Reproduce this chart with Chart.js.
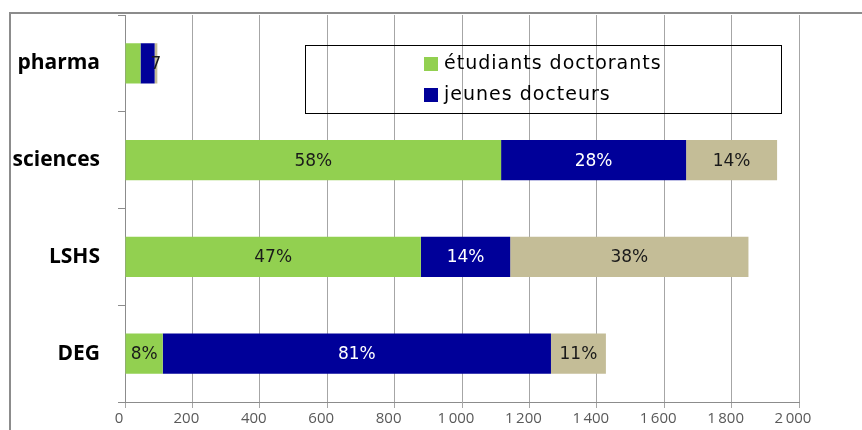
<!DOCTYPE html>
<html>
<head>
<meta charset="utf-8">
<script src="https://cdn.jsdelivr.net/npm/chart.js@4.4.0/dist/chart.umd.min.js"></script>
<style>
  body { margin: 0; background: #fff; }
  #wrap { position: relative; width: 862px; height: 430px; overflow: hidden; }
  #frame { position: absolute; left: 9px; top: 12px; width: 900px; height: 500px;
           border-left: 2px solid #8c8c8c; border-top: 2px solid #8c8c8c; }
  canvas { position: absolute; left: 0; top: 0; }
</style>
</head>
<body>
<div id="wrap">
  <div id="frame"></div>
  <canvas id="chart" width="862" height="430"></canvas>
</div>
<script>
  const categories = ['pharma', 'sciences', 'LSHS', 'DEG'];
  const doctorants = [46, 1116, 878, 112];
  const jeunesDocteurs = [42, 549, 265, 1152];
  const autres = [8, 270, 707, 163];

  const doctorantsLabels = ['', '58%', '47%', '8%'];
  const docteursLabels = ['', '28%', '14%', '81%'];
  const autresLabels = ['7', '14%', '38%', '11%'];

  const xMax = 2000;
  const xStep = 200;

  function fmtThousands(v) {
    return String(v).replace(/\B(?=(\d{3})+(?!\d))/g, '\u2009');
  }

  // percentage labels in the middle of each segment
  const segmentLabels = {
    id: 'segmentLabels',
    afterDatasetsDraw(chart) {
      const ctx = chart.ctx;
      ctx.save();
      ctx.font = '17px "DejaVu Sans"';
      ctx.textAlign = 'center';
      ctx.textBaseline = 'middle';
      chart.data.datasets.forEach((ds, i) => {
        const meta = chart.getDatasetMeta(i);
        meta.data.forEach((bar, j) => {
          const txt = ds.valueLabels[j];
          if (!txt) return;
          ctx.fillStyle = ds.labelColor;
          ctx.fillText(txt, (bar.x + bar.base) / 2, bar.y + 1);
        });
      });
      ctx.restore();
    }
  };

  // boxed legend sitting inside the plot, only the first two series
  const boxLegend = {
    id: 'boxLegend',
    afterDraw(chart) {
      const ctx = chart.ctx;
      ctx.save();
      ctx.strokeStyle = '#000';
      ctx.lineWidth = 1;
      ctx.strokeRect(305.5, 45.5, 476, 68);
      ctx.font = '19px "DejaVu Sans"';
      ctx.letterSpacing = '1px';
      ctx.textBaseline = 'middle';
      ctx.textAlign = 'left';
      chart.data.datasets.slice(0, 2).forEach((ds, i) => {
        const y = 64 + i * 31;
        ctx.fillStyle = ds.backgroundColor;
        ctx.fillRect(424, y - 7, 14, 14);
        ctx.fillStyle = '#000';
        ctx.fillText(ds.label, 444, y);
      });
      ctx.restore();
    }
  };

  new Chart(document.getElementById('chart').getContext('2d'), {
    type: 'bar',
    data: {
      labels: categories,
      datasets: [
        { label: 'étudiants doctorants', data: doctorants, backgroundColor: '#92D050',
          valueLabels: doctorantsLabels, labelColor: '#1a1a1a' },
        { label: 'jeunes docteurs', data: jeunesDocteurs, backgroundColor: '#000099',
          valueLabels: docteursLabels, labelColor: '#ffffff' },
        { label: 'autres', data: autres, backgroundColor: '#C4BD97',
          valueLabels: autresLabels, labelColor: '#1a1a1a' }
      ]
    },
    options: {
      indexAxis: 'y',
      responsive: false,
      animation: false,
      categoryPercentage: 0.8,
      barPercentage: 0.52,
      layout: { padding: { top: 15, right: 63, bottom: 0, left: 0 } },
      plugins: {
        legend: { display: false },
        tooltip: { enabled: false }
      },
      scales: {
        x: {
          stacked: true,
          min: 0,
          max: xMax,
          afterFit(scale) { scale.height = 28; },
          grid: { color: '#a6a6a6', tickLength: 6 },
          border: { color: '#8c8c8c' },
          ticks: {
            stepSize: xStep,
            labelOffset: -6,
            padding: 2,
            color: '#595959',
            font: { family: 'Open Sans', size: 15 },
            callback: v => fmtThousands(v)
          }
        },
        y: {
          stacked: true,
          afterFit(scale) {
            scale.width = 125;
            scale.paddingTop = 0;
            scale.paddingBottom = 0;
          },
          grid: { drawOnChartArea: false, offset: true, tickLength: 7, color: '#8c8c8c' },
          border: { color: '#8c8c8c' },
          ticks: {
            padding: 18,
            color: '#000',
            font: { family: 'Open Sans', size: 21, weight: 'bold' }
          }
        }
      }
    },
    plugins: [segmentLabels, boxLegend]
  });
</script>
</body>
</html>
